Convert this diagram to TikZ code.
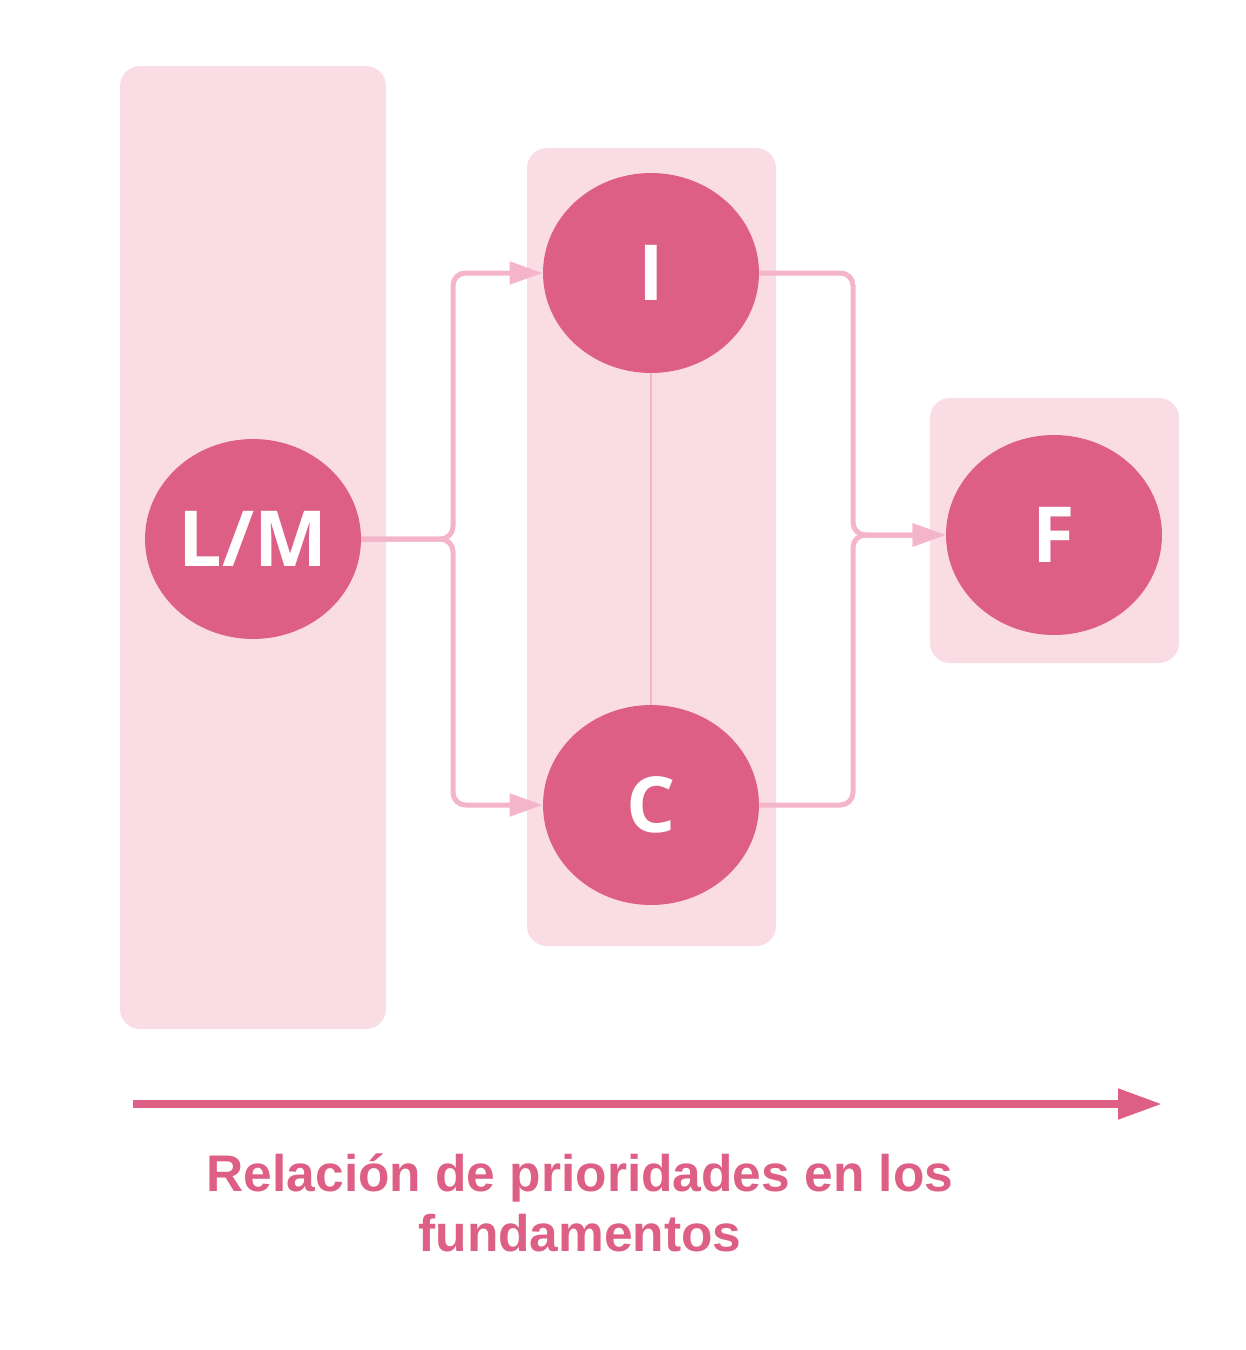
\documentclass[tikz,border=0pt]{standalone}
\usepackage{fontspec}
\usepackage{xcolor}
\usepackage{tikz}
\usetikzlibrary{arrows.meta,shapes.geometric}
\newfontfamily\circfont{Open Sans}
\newfontfamily\capfont{Liberation Sans}
\definecolor{mainc}{HTML}{DE5F85}
\definecolor{linkc}{HTML}{F4B4C9}
\definecolor{softbg}{HTML}{FADDE4}
\tikzset{
  grp/.style={fill=softbg,rounded corners=0.4cm},
  circ/.style={ellipse,fill=mainc,text=white,minimum width=4.32cm,minimum height=4cm,inner sep=0pt,font=\circfont\bfseries\fontsize{44}{44}\selectfont},
  link/.style={linkc,line width=0.1cm,rounded corners=0.25cm},
  ar/.style={link,-{Triangle[length=0.66cm,width=0.44cm]}},
  bigar/.style={mainc,line width=0.16cm,-{Triangle[length=0.88cm,width=0.58cm]}}
}

\begin{document}
\begin{tikzpicture}[x=0.02cm,y=-0.02cm]
\useasboundingbox (0,0) rectangle (1246,1350);
% groups
\fill[grp] (120,66) rectangle (386,1029);
\fill[grp] (527,148) rectangle (776,946);
\fill[grp] (930,398) rectangle (1179,663);
% nodes
\node[circ] (lm) at (253,539) {L/M};
\node[circ] (i) at (651,273) {I};
\node[circ] (c) at (651,805) {C};
\node[circ] (f) at (1054,535) {F};
% links
\draw[ar] (lm.east) -- (453,539) -- (453,273) -- (i.west);
\draw[ar] (lm.east) -- (453,539) -- (453,805) -- (c.west);
\draw[linkc,line width=0.04cm] (i) -- (c);
\draw[ar] (i.east) -- (853,273) -- (853,535) -- (f.west);
\draw[ar] (c.east) -- (853,805) -- (853,535) -- (f.west);
% axis
\coordinate (a0) at (133,1104);
\coordinate (a1) at (1162,1104);
\draw[bigar] (a0) -- (a1);
\node[mainc,align=center,inner sep=0pt,font=\capfont\bfseries\fontsize{29.3}{34}\selectfont] (cap) at (580,1203) {Relación de prioridades en los\\fundamentos};
\end{tikzpicture}
\end{document}
